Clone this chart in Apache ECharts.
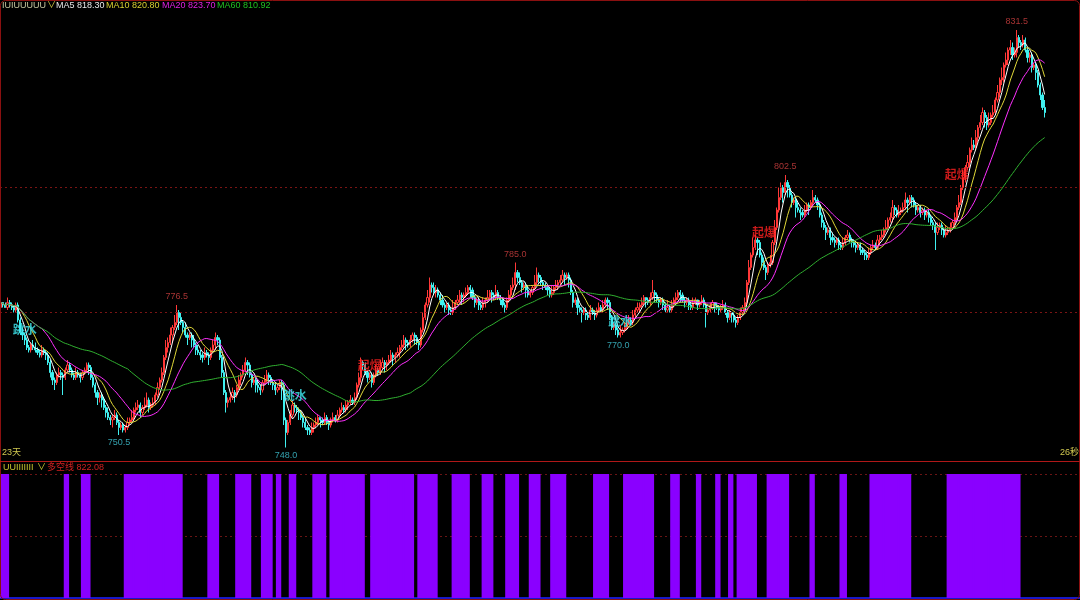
<!DOCTYPE html>
<html><head><meta charset="utf-8">
<script src="https://cdn.jsdelivr.net/npm/echarts@6/dist/echarts.min.js"></script>
<style>html,body{margin:0;padding:0;background:#000}#c{width:1080px;height:600px}</style>
</head><body><div id="c"></div>
<script>
// [open, close, low, high]
const candles = [
[776.0,777.0,775.5,777.5],[777.0,776.5,776.0,777.0],[776.5,776.0,776.0,777.0],[776.0,777.0,775.5,778.0],
[777.0,776.5,776.0,777.5],[776.5,776.0,775.5,777.0],[776.0,775.5,775.0,776.5],[775.5,776.5,775.0,777.0],
[776.5,773.5,773.0,777.0],[773.5,771.0,770.5,774.0],[771.0,770.5,769.5,772.0],[770.5,769.5,768.5,771.0],
[769.5,768.0,767.5,770.0],[768.0,767.5,767.0,768.5],[767.5,768.5,767.0,769.0],[768.5,768.0,767.5,769.5],
[768.0,767.5,767.0,769.0],[767.5,767.0,766.5,768.0],[767.0,766.5,766.0,767.5],[766.5,767.5,766.0,768.5],
[767.5,767.0,766.5,768.0],[767.0,766.5,765.5,767.5],[766.5,765.0,764.5,767.0],[765.0,763.0,762.0,765.5],
[763.0,761.5,760.5,763.5],[761.5,761.0,759.5,762.0],[761.0,762.5,760.5,763.0],[762.5,763.0,762.0,764.0],
[763.0,762.5,761.5,763.5],[762.5,762.0,758.5,763.0],[762.0,763.5,761.5,764.0],[763.5,764.5,763.0,765.5],
[764.5,763.5,763.0,765.0],[763.5,762.5,762.0,764.0],[762.5,762.0,761.5,763.0],[762.0,763.0,761.5,764.0],
[763.0,762.5,762.0,763.5],[762.5,762.0,761.0,763.0],[762.0,763.0,761.5,763.5],[763.0,763.5,762.5,764.0],
[763.5,764.5,763.0,765.0],[764.5,764.0,762.5,765.0],[764.0,762.0,761.5,764.5],[762.0,760.5,760.0,762.5],
[760.5,759.0,758.0,761.0],[759.0,758.0,756.5,759.5],[758.0,758.5,757.0,759.0],[758.5,757.5,756.0,759.0],
[757.5,756.0,755.5,758.0],[756.0,755.0,754.0,756.5],[755.0,754.0,753.5,756.0],[754.0,753.5,752.5,754.5],
[753.5,754.0,752.0,754.5],[754.0,754.5,753.5,755.5],[754.5,753.0,752.5,755.0],[753.0,752.0,750.5,753.5],
[752.0,752.5,751.5,753.0],[752.5,751.5,751.0,753.0],[751.5,752.0,751.0,752.5],[752.0,753.0,751.5,754.0],
[753.0,753.5,752.5,754.0],[753.5,754.0,753.0,755.5],[754.0,755.5,753.5,756.0],[755.5,756.0,755.0,757.0],
[756.0,756.5,755.5,757.5],[756.5,755.0,754.0,757.0],[755.0,756.0,754.5,756.5],[756.0,756.5,755.5,758.0],
[756.5,757.5,756.0,759.0],[757.5,756.0,755.0,758.0],[756.0,756.5,755.5,757.0],[756.5,757.0,756.0,758.0],
[757.0,758.5,756.5,759.0],[758.5,760.0,758.0,761.0],[760.0,761.5,759.5,762.0],[761.5,763.0,761.0,764.0],
[763.0,766.0,762.5,766.5],[766.0,768.0,765.5,769.5],[768.0,769.0,767.0,770.0],[769.0,770.5,768.5,772.0],
[770.5,772.0,769.0,772.5],[772.0,773.0,771.5,774.5],[773.0,775.0,772.5,776.5],[775.0,774.0,771.5,775.5],
[774.0,773.0,772.5,775.0],[773.0,772.0,771.0,773.5],[772.0,770.5,770.0,773.0],[770.5,770.0,768.5,771.0],
[770.0,770.5,769.5,771.0],[770.5,769.5,768.0,771.0],[769.5,768.5,768.0,770.5],[768.5,767.5,766.5,769.0],
[767.5,767.0,766.5,768.5],[767.0,766.5,765.5,767.5],[766.5,766.0,765.0,767.0],[766.0,767.0,765.5,768.0],
[767.0,766.5,766.0,767.5],[766.5,766.0,764.5,767.0],[766.0,767.5,765.5,768.0],[767.5,768.5,767.0,769.5],
[768.5,770.0,767.5,771.0],[770.0,769.5,768.5,770.5],[769.5,766.0,765.5,770.0],[766.0,763.0,762.0,766.5],
[763.0,759.0,758.5,763.5],[759.0,757.0,755.0,759.5],[757.0,757.5,756.0,758.0],[757.5,758.0,757.0,759.0],
[758.0,759.0,757.5,760.0],[759.0,758.5,757.0,759.5],[758.5,760.0,758.0,760.5],[760.0,761.5,759.5,762.5],
[761.5,762.5,760.5,763.0],[762.5,763.5,762.0,764.5],[763.5,765.0,763.0,766.0],[765.0,764.5,762.5,765.5],
[764.5,762.5,762.0,765.0],[762.5,761.0,760.0,763.0],[761.0,761.5,760.5,762.0],[761.5,760.5,759.0,762.0],
[760.5,760.0,759.0,761.5],[760.0,759.5,758.5,760.5],[759.5,761.0,759.0,761.5],[761.0,761.5,760.5,762.5],
[761.5,762.5,761.0,763.5],[762.5,762.0,760.5,763.0],[762.0,761.0,760.5,762.5],[761.0,760.5,759.5,761.5],
[760.5,759.5,758.5,761.0],[759.5,760.0,759.0,760.5],[760.0,761.0,759.5,761.5],[761.0,760.5,757.5,761.5],
[760.5,753.5,752.5,761.0],[753.5,751.0,748.0,754.0],[751.0,753.0,750.5,753.5],[753.0,754.5,752.5,755.5],
[754.5,756.5,754.0,757.5],[756.5,756.0,755.0,757.0],[756.0,755.5,755.0,756.5],[755.5,755.0,753.5,756.0],
[755.0,754.0,753.5,755.5],[754.0,753.0,752.0,754.5],[753.0,752.0,751.5,754.0],[752.0,751.5,750.5,752.5],
[751.5,751.0,750.5,752.0],[751.0,752.0,750.5,753.0],[752.0,752.5,751.0,753.0],[752.5,753.0,752.0,754.0],
[753.0,754.0,752.5,754.5],[754.0,753.5,752.0,754.0],[753.5,753.0,752.5,754.0],[753.0,754.0,752.5,755.0],
[754.0,753.0,752.5,754.5],[753.0,752.5,751.5,753.5],[752.5,753.5,752.0,754.0],[753.5,754.0,753.0,755.0],
[754.0,753.5,753.0,754.5],[753.5,754.5,753.0,755.5],[754.5,755.5,754.0,756.0],[755.5,756.0,755.0,757.0],
[756.0,755.5,755.0,756.5],[755.5,756.5,755.0,757.5],[756.5,757.0,755.5,757.5],[757.0,757.5,756.5,758.5],
[757.5,757.0,756.5,758.0],[757.0,758.0,756.5,759.0],[758.0,760.5,757.5,761.0],[760.5,762.0,760.0,763.0],
[762.0,765.0,761.0,766.0],[765.0,764.5,763.5,765.5],[764.5,763.0,762.5,765.0],[763.0,762.0,761.0,763.5],
[762.0,762.5,761.5,763.0],[762.5,761.0,760.0,763.0],[761.0,762.5,760.5,763.0],[762.5,763.5,762.0,764.5],
[763.5,763.0,762.5,764.0],[763.0,764.0,762.5,765.5],[764.0,765.0,763.5,766.0],[765.0,764.5,763.0,765.5],
[764.5,765.0,763.5,765.5],[765.0,765.5,764.5,766.5],[765.5,766.5,765.0,767.5],[766.5,766.0,764.5,767.0],
[766.0,766.5,765.0,767.0],[766.5,767.0,766.0,768.0],[767.0,768.0,766.0,768.5],[768.0,768.5,767.5,769.5],
[768.5,769.5,768.0,770.5],[769.5,769.0,767.5,770.0],[769.0,768.5,768.0,769.5],[768.5,769.5,768.0,770.5],
[769.5,770.5,769.0,771.0],[770.5,770.0,768.5,771.0],[770.0,769.0,768.5,770.5],[769.0,768.5,767.5,769.5],
[768.5,771.5,768.0,772.0],[771.5,774.0,771.0,775.0],[774.0,776.5,773.5,777.0],[776.5,778.0,776.0,779.5],
[778.0,780.5,777.0,782.0],[780.5,780.0,779.0,781.0],[780.0,779.0,778.5,781.0],[779.0,779.5,778.0,780.5],
[779.5,778.5,778.0,780.0],[778.5,777.5,776.5,779.0],[777.5,776.5,776.0,778.5],[776.5,776.0,775.0,777.0],
[776.0,776.5,775.5,777.0],[776.5,775.5,774.5,777.0],[775.5,775.0,774.5,776.0],[775.0,776.0,774.5,777.5],
[776.0,777.0,775.5,777.5],[777.0,777.5,776.5,778.5],[777.5,778.5,777.0,779.5],[778.5,778.0,776.5,779.0],
[778.0,778.5,777.0,779.0],[778.5,779.0,778.0,780.0],[779.0,780.0,778.5,780.5],[780.0,779.5,778.0,780.5],
[779.5,778.0,777.5,780.0],[778.0,777.0,776.0,778.5],[777.0,777.5,776.5,778.0],[777.5,776.5,775.5,778.0],
[776.5,776.0,775.5,777.0],[776.0,777.0,775.5,778.0],[777.0,777.5,776.0,778.0],[777.5,778.0,777.0,779.5],
[778.0,779.0,777.5,779.5],[779.0,778.5,777.0,779.5],[778.5,778.0,777.5,779.0],[778.0,779.0,777.5,780.5],
[779.0,778.0,777.5,779.5],[778.0,777.5,776.5,778.5],[777.5,776.5,776.0,778.0],[776.5,776.0,775.0,777.0],
[776.0,777.5,775.5,778.0],[777.5,778.5,777.0,779.5],[778.5,780.0,778.0,780.5],[780.0,780.5,779.5,782.0],
[780.5,783.0,779.5,785.0],[783.0,782.0,781.0,783.5],[782.0,781.0,780.5,783.0],[781.0,780.0,779.0,781.5],
[780.0,780.5,779.5,781.0],[780.5,779.5,778.0,781.0],[779.5,778.5,778.0,780.5],[778.5,779.0,778.0,779.5],
[779.0,780.0,778.5,780.5],[780.0,781.0,779.5,782.5],[781.0,782.5,780.5,784.0],[782.5,782.0,781.0,783.0],
[782.0,781.0,780.5,782.5],[781.0,780.5,779.5,781.5],[780.5,780.0,779.5,781.0],[780.0,779.5,778.5,780.5],
[779.5,778.5,778.0,780.0],[778.5,779.0,778.0,780.5],[779.0,780.0,778.5,780.5],[780.0,780.5,779.5,781.5],
[780.5,781.0,779.5,781.5],[781.0,781.5,780.5,782.5],[781.5,782.5,781.0,783.5],[782.5,782.0,780.5,783.0],
[782.0,782.5,781.5,783.0],[782.5,781.5,780.0,783.0],[781.5,779.0,778.5,782.0],[779.0,777.0,776.0,779.5],
[777.0,777.5,776.5,778.0],[777.5,776.0,774.5,778.0],[776.0,775.5,775.0,776.5],[775.5,775.0,773.0,776.0],
[775.0,775.5,774.5,776.0],[775.5,774.5,773.5,776.0],[774.5,774.0,773.5,775.0],[774.0,775.5,773.5,776.5],
[775.5,775.0,774.5,776.0],[775.0,774.5,773.5,775.5],[774.5,775.5,774.0,776.0],[775.5,776.0,775.0,777.0],
[776.0,775.5,775.0,776.5],[775.5,776.5,775.0,777.5],[776.5,777.5,776.0,778.0],[777.5,777.0,775.5,778.0],
[777.0,774.0,773.5,777.5],[774.0,772.0,771.5,774.5],[772.0,772.5,771.5,773.0],[772.5,771.5,770.5,773.0],
[771.5,770.5,770.0,772.0],[770.5,771.0,770.0,772.5],[771.0,771.5,770.5,772.0],[771.5,772.0,771.0,773.0],
[772.0,773.0,771.5,773.5],[773.0,773.5,772.5,774.5],[773.5,773.0,772.5,774.0],[773.0,774.5,772.5,775.5],
[774.5,775.5,774.0,776.0],[775.5,776.0,775.0,777.0],[776.0,776.5,775.0,777.0],[776.5,777.0,776.0,778.0],
[777.0,778.0,776.5,778.5],[778.0,777.5,776.0,778.0],[777.5,777.0,776.5,778.0],[777.0,778.0,776.5,779.0],
[778.0,779.0,777.5,781.5],[779.0,778.5,777.0,779.5],[778.5,777.5,777.0,779.0],[777.5,777.0,776.0,778.0],
[777.0,777.5,776.5,778.0],[777.5,776.5,775.5,778.0],[776.5,775.5,775.0,777.0],[775.5,776.0,775.0,777.5],
[776.0,775.5,775.0,776.5],[775.5,776.5,775.0,777.5],[776.5,777.5,776.0,778.0],[777.5,778.0,777.0,779.0],
[778.0,779.0,777.5,779.5],[779.0,778.5,777.0,779.5],[778.5,777.5,777.0,779.0],[777.5,777.0,776.0,778.0],
[777.0,777.5,776.5,778.0],[777.5,776.5,775.5,778.0],[776.5,776.0,775.5,777.0],[776.0,777.0,775.5,778.0],
[777.0,777.5,776.5,778.0],[777.5,776.5,775.5,777.5],[776.5,777.0,776.0,777.5],[777.0,777.5,776.5,778.5],
[777.5,776.5,776.0,778.0],[776.5,775.0,772.0,777.0],[775.0,775.5,774.5,776.0],[775.5,776.0,775.0,777.0],
[776.0,777.0,775.5,777.5],[777.0,776.5,775.0,777.0],[776.5,776.0,775.5,777.0],[776.0,775.5,774.5,776.5],
[775.5,776.0,775.0,776.5],[776.0,776.5,775.5,777.5],[776.5,775.0,774.5,777.0],[775.0,774.0,773.0,775.5],
[774.0,775.0,773.5,775.5],[775.0,774.5,773.0,775.0],[774.5,773.5,773.0,775.0],[773.5,773.0,772.0,774.0],
[773.0,774.0,772.5,774.5],[774.0,775.0,773.5,776.0],[775.0,776.0,774.5,776.5],[776.0,777.0,775.5,778.0],
[777.0,781.0,776.5,781.5],[781.0,784.0,780.5,785.5],[784.0,786.5,783.5,787.0],[786.5,788.0,786.0,790.0],
[788.0,789.5,787.5,790.5],[789.5,789.0,786.5,790.0],[789.0,786.5,786.0,789.5],[786.5,785.0,784.0,787.0],
[785.0,784.0,783.5,786.0],[784.0,783.0,781.5,784.5],[783.0,784.5,782.5,785.0],[784.5,785.0,784.0,786.5],
[785.0,789.0,784.5,789.5],[789.0,792.0,788.5,793.5],[792.0,795.5,791.5,796.0],[795.5,798.0,795.0,800.0],
[798.0,800.0,797.5,801.0],[800.0,799.0,797.0,800.5],[799.0,801.0,798.5,802.5],[801.0,800.0,798.0,801.5],
[800.0,798.5,798.0,800.5],[798.5,797.0,796.0,799.0],[797.0,797.5,796.5,798.0],[797.5,796.0,794.0,798.0],
[796.0,795.5,795.0,797.0],[795.5,795.0,793.5,796.0],[795.0,794.5,794.0,795.5],[794.5,795.5,794.0,796.5],
[795.5,796.5,795.0,797.0],[796.5,796.0,794.5,797.0],[796.0,797.0,795.5,797.5],[797.0,798.0,796.5,799.5],
[798.0,797.5,797.0,798.5],[797.5,796.5,795.5,798.0],[796.5,794.5,794.0,797.0],[794.5,793.0,792.0,795.0],
[793.0,792.0,791.5,793.5],[792.0,791.0,789.5,792.5],[791.0,791.5,790.5,792.0],[791.5,790.0,788.5,792.0],
[790.0,789.5,789.0,791.0],[789.5,789.0,788.0,790.0],[789.0,789.5,788.5,790.0],[789.5,788.5,787.5,790.0],
[788.5,788.0,787.5,789.0],[788.0,789.0,787.5,790.0],[789.0,790.0,788.5,790.5],[790.0,790.5,789.5,791.5],
[790.5,789.5,789.0,791.0],[789.5,789.0,788.0,790.0],[789.0,788.5,788.0,789.5],[788.5,788.0,787.0,789.0],
[788.0,788.5,787.5,789.0],[788.5,787.5,786.5,789.0],[787.5,787.0,786.5,788.0],[787.0,786.5,785.5,787.5],
[786.5,786.0,785.5,787.0],[786.0,787.0,785.5,788.0],[787.0,788.0,786.5,788.5],[788.0,788.5,787.5,789.5],
[788.5,788.0,787.5,789.0],[788.0,789.5,787.5,790.5],[789.5,790.0,788.5,790.5],[790.0,790.5,789.5,791.5],
[790.5,791.5,790.0,792.0],[791.5,792.0,791.0,793.5],[792.0,793.5,791.5,794.0],[793.5,794.0,793.0,795.0],
[794.0,796.0,793.0,797.5],[796.0,795.5,794.5,796.5],[795.5,794.5,794.0,796.0],[794.5,795.0,794.0,796.5],
[795.0,795.5,794.5,796.0],[795.5,796.0,795.0,797.0],[796.0,797.5,795.5,799.0],[797.5,797.0,795.0,798.0],
[797.0,798.0,796.5,798.5],[798.0,797.5,796.0,798.5],[797.5,796.5,796.0,798.0],[796.5,795.5,794.5,797.0],
[795.5,796.0,795.0,796.5],[796.0,795.0,794.0,796.5],[795.0,795.5,794.5,796.0],[795.5,794.5,793.5,796.0],
[794.5,795.0,794.0,795.5],[795.0,794.0,793.0,795.5],[794.0,793.0,792.5,794.5],[793.0,792.5,791.5,793.5],
[792.5,791.0,787.5,793.0],[791.0,792.0,790.5,793.0],[792.0,792.5,791.5,793.0],[792.5,791.5,790.5,793.0],
[791.5,790.5,790.0,792.0],[790.5,791.0,790.0,792.5],[791.0,791.5,790.5,792.0],[791.5,792.0,791.0,793.0],
[792.0,793.0,791.5,793.5],[793.0,794.0,792.5,795.0],[794.0,796.0,793.5,796.5],[796.0,797.0,795.5,798.5],
[797.0,800.0,796.5,800.5],[800.0,802.0,799.5,803.5],[802.0,804.0,801.0,804.5],[804.0,805.0,803.5,806.5],
[805.0,807.5,804.0,808.0],[807.5,808.5,807.0,810.0],[808.5,808.0,807.5,809.5],[808.0,810.0,807.5,811.5],
[810.0,812.0,809.0,812.5],[812.0,813.0,811.5,814.5],[813.0,815.0,812.5,816.0],[815.0,814.0,812.0,815.5],
[814.0,812.5,811.5,814.5],[812.5,813.0,812.0,815.0],[813.0,814.5,812.5,815.0],[814.5,815.0,814.0,816.5],
[815.0,817.5,814.5,818.0],[817.5,819.0,817.0,820.5],[819.0,821.5,818.0,822.0],[821.5,822.0,820.5,824.0],
[822.0,824.5,821.0,825.0],[824.5,825.5,824.0,827.0],[825.5,827.5,824.5,828.0],[827.5,828.0,826.5,829.5],
[828.0,826.5,825.5,829.0],[826.5,827.0,826.0,828.0],[827.0,830.0,826.0,831.5],[830.0,829.0,828.0,830.5],
[829.0,828.5,827.5,829.5],[828.5,829.5,828.0,830.5],[829.5,827.5,827.0,830.0],[827.5,826.0,825.0,828.0],
[826.0,826.5,825.0,827.0],[826.5,824.0,823.0,827.0],[824.0,824.5,823.5,825.0],[824.5,823.0,821.5,825.0],
[823.0,820.5,820.0,823.5],[820.5,818.5,817.5,821.0],[818.5,816.0,815.5,819.0],[816.0,815.0,814.0,817.5]
];
const maPeriods = [5, 10, 20, 60];
const maColors = ['#ffffff', '#e0d838', '#ff30ff', '#30b030'];
const legendItems = [
  ['IUIUUUUU', '#c8c8a0', 2], ['\u2228', '#d0c840', 47],
  ['MA5 818.30', '#e8e8e8', 56], ['MA10 820.80', '#d8d030', 106],
  ['MA20 823.70', '#e020e0', 162], ['MA60 810.92', '#20c020', 217]
];
const subLegend = [['UUIIIIIII', '#c8c830', 3], ['\u2228', '#c8c830', 37], ['多空线 822.08', '#d02020', 47]];
const cornerTexts = [['23天', 2], ['26秒', 1060]];
const purpleRanges = [[0,3],[30,31],[38,41],[58,84],[97,101],[110,116],[122,126],[129,130],[135,137],[146,151],[154,169],[173,192],[195,203],[211,218],[225,229],[236,241],[247,251],[257,263],[277,283],[291,304],[313,316],[325,326],[334,335],[340,341],[344,352],[358,367],[378,379],[392,394],[406,424],[442,475]];
const hiMarks = [[82, 776.5], [240, 785.0], [366, 802.5], [474, 831.5]];
const loMarks = [[55, 750.5], [133, 748.0], [288, 770.0]];
const upSignals = [[172, 764.1], [356, 790.7], [446, 802.3]];
const downSignals = [[11, 771.3], [137, 758.1], [289, 772.9]];
const refLevels = [775, 800];
const padCount = 16;

const closes = candles.map(c => c[1]);
function ma(n) {
  return closes.map((_, i) => {
    const s = Math.max(0, i - n + 1);
    let sum = 0;
    for (let k = s; k <= i; k++) sum += closes[k];
    return +(sum / (i - s + 1)).toFixed(3);
  });
}
const cats = Array.from({length: candles.length + padCount}, (_, i) => String(i));
const flags = candles.map(() => 0);
purpleRanges.forEach(([a, b]) => { for (let i = a; i <= b; i++) flags[i] = 1; });

const FONT = "'Liberation Sans','Noto Sans CJK SC',sans-serif";
const graphics = [
  {type: 'rect', shape: {x: 0.5, y: 0.5, width: 1079, height: 599, r: 5}, style: {fill: null, stroke: '#8a1010', lineWidth: 1}, z: 100},
  {type: 'line', shape: {x1: 0, y1: 461.5, x2: 1080, y2: 461.5}, style: {stroke: '#b01818', lineWidth: 1}, z: 100}
];
legendItems.forEach(([t, c, x]) => graphics.push({type: 'text', left: x, top: 1, style: {text: t, fill: c, font: `9px ${FONT}`}, z: 101}));
subLegend.forEach(([t, c, x]) => graphics.push({type: 'text', left: x, top: 463, style: {text: t, fill: c, font: `9px ${FONT}`}, z: 101}));
cornerTexts.forEach(([t, x]) => graphics.push({type: 'text', left: x, top: 448, style: {text: t, fill: '#d0c850', font: `9px ${FONT}`}, z: 101}));

const series = [
  {
    type: 'candlestick', data: candles, xAxisIndex: 0, yAxisIndex: 0, barWidth: 1.6,
    itemStyle: {color: '#000000', color0: '#40f0f0', borderColor: '#ff3838', borderColor0: '#40f0f0', borderWidth: 1},
    markLine: {silent: true, symbol: 'none', label: {show: false},
      lineStyle: {color: '#7a1414', type: [2, 3], width: 1},
      data: refLevels.map(v => ({yAxis: v}))},
    z: 2
  }
];
maPeriods.forEach((n, k) => series.push({
  type: 'line', data: ma(n), xAxisIndex: 0, yAxisIndex: 0, showSymbol: false, symbol: 'none',
  lineStyle: {color: maColors[k], width: 1}, z: 3
}));
series.push({
  type: 'scatter', data: hiMarks, xAxisIndex: 0, yAxisIndex: 0, symbolSize: 1, itemStyle: {color: 'transparent'},
  label: {show: true, position: 'top', distance: 3, color: '#d04040', fontSize: 9, fontFamily: FONT, formatter: p => p.value[1].toFixed(1)}, z: 5
});
series.push({
  type: 'scatter', data: loMarks, xAxisIndex: 0, yAxisIndex: 0, symbolSize: 1, itemStyle: {color: 'transparent'},
  label: {show: true, position: 'bottom', distance: 3, color: '#40c8d8', fontSize: 9, fontFamily: FONT, formatter: p => p.value[1].toFixed(1)}, z: 5
});
series.push({
  type: 'scatter', data: upSignals, xAxisIndex: 0, yAxisIndex: 0, symbolSize: 1, itemStyle: {color: 'transparent'},
  label: {show: true, position: 'inside', color: '#ff2020', fontSize: 12, fontWeight: 'bold', fontFamily: FONT, formatter: '起爆'}, z: 6
});
series.push({
  type: 'scatter', data: downSignals, xAxisIndex: 0, yAxisIndex: 0, symbolSize: 1, itemStyle: {color: 'transparent'},
  label: {show: true, position: 'inside', color: '#40e8f0', fontSize: 12, fontWeight: 'bold', fontFamily: FONT, formatter: '跳水'}, z: 6
});
series.push({
  type: 'bar', data: flags, xAxisIndex: 1, yAxisIndex: 1, barWidth: 3.2, barGap: '-100%',
  itemStyle: {color: '#8a00ff', borderWidth: 0}, z: 2
});

const chart = echarts.init(document.getElementById('c'), null, {renderer: 'canvas'});
chart.setOption({
  backgroundColor: '#000000',
  animation: false,
  grid: [
    {left: 0, right: 0, top: 14, height: 446},
    {left: 0, right: 0, top: 474, height: 124}
  ],
  xAxis: [
    {type: 'category', data: cats, gridIndex: 0, boundaryGap: true, axisLine: {show: false}, axisTick: {show: false}, axisLabel: {show: false}, splitLine: {show: false}},
    {type: 'category', data: cats, gridIndex: 1, boundaryGap: true, axisLine: {show: true, lineStyle: {color: '#1818c8', width: 2}}, axisTick: {show: false}, axisLabel: {show: false}, splitLine: {show: false}}
  ],
  yAxis: [
    {type: 'value', gridIndex: 0, min: 745.5, max: 834.7, scale: true, axisLine: {show: false}, axisTick: {show: false}, axisLabel: {show: false}, splitLine: {show: false}},
    {type: 'value', gridIndex: 1, min: 0, max: 1, interval: 0.5, axisLine: {show: false}, axisTick: {show: false}, axisLabel: {show: false},
      splitLine: {show: true, lineStyle: {color: '#6a1414', type: [2, 3], width: 1}}}
  ],
  graphic: graphics,
  series: series
});
</script>
</body></html>
